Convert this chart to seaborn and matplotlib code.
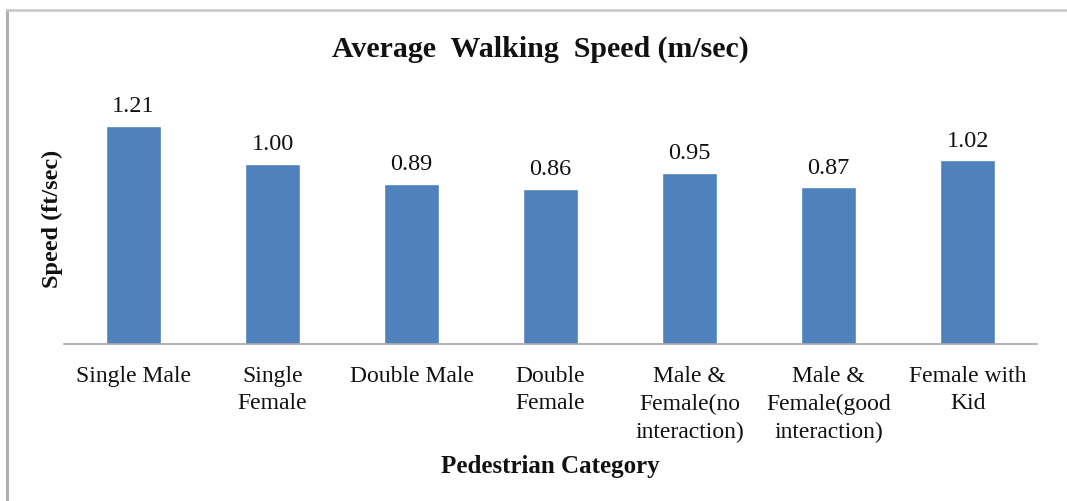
import matplotlib
matplotlib.use("Agg")
import matplotlib.pyplot as plt
import seaborn as sns
import pandas as pd
from matplotlib.lines import Line2D

# categorias e velocidades
categorias = ["Single Male", "Single\nFemale", "Double Male", "Double\nFemale",
              "Male &\nFemale(no\ninteraction)", "Male &\nFemale(good\ninteraction)",
              "Female with\nKid"]
velocidades = [1.21, 1.00, 0.89, 0.86, 0.95, 0.87, 1.02]
rotulos = ["1.21", "1.00", "0.89", "0.86", "0.95", "0.87", "1.02"]

tabela = pd.DataFrame({"categoria": categorias, "velocidade": velocidades})

sns.set_style("white")
plt.rcParams['font.family'] = ['Liberation Serif', 'DejaVu Serif']

fig = plt.figure(figsize=(10.67, 5.02), dpi=100)
ax = fig.add_axes([0.060, 0.313, 0.912, 0.502])

sns.barplot(data=tabela, x="categoria", y="velocidade", color="#4F81BD",
            saturation=1, width=0.4, ax=ax)

for barra, txt in zip(ax.patches, rotulos):
    ax.annotate(txt, (barra.get_x() + barra.get_width() / 2, barra.get_height()),
                xytext=(0, 7), textcoords="offset points", ha="center", va="bottom",
                fontsize=17.5, color="#111111")

ax.set_ylim(0, 1.4)
ax.set_xlim(-0.5, len(categorias) - 0.5)
ax.set_yticks([])
ax.tick_params(axis="x", length=0, pad=15, labelsize=17, colors="#111111")
for rot in ax.get_xticklabels():
    rot.set_linespacing(1.42)
for lado in ["top", "right", "left"]:
    ax.spines[lado].set_visible(False)
ax.spines["bottom"].set_color("#a6a6a6")
ax.spines["bottom"].set_linewidth(1.2)

ax.set_xlabel("Pedestrian Category", fontsize=18, fontweight="bold", labelpad=9,
              color="#111111")
ax.set_ylabel("Speed (ft/sec)", fontsize=17.5, fontweight="bold", labelpad=1,
              color="#111111")
fig.text(0.506, 0.902, "Average  Walking  Speed (m/sec)", ha="center", va="center",
         fontsize=21.5, fontweight="bold", color="#111111")

# moldura cinza (so esquerda e topo aparecem)
fig.add_artist(Line2D([0.0066, 0.0066], [0, 0.978], color="#b0b0b0", lw=2.2,
                      transform=fig.transFigure))
fig.add_artist(Line2D([0.0066, 1.0], [0.978, 0.978], color="#c8c8c8", lw=1.8,
                      transform=fig.transFigure))

fig.savefig("out.png", dpi=100)
